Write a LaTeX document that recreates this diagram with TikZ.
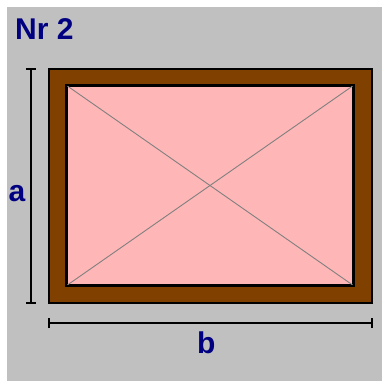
\documentclass[tikz,border=0pt]{standalone}
\usepackage{fontspec}
\setmainfont{Liberation Sans}
\definecolor{bggray}{RGB}{192,192,192}
\definecolor{frame}{RGB}{128,64,0}
\definecolor{pane}{RGB}{255,182,182}
\definecolor{diag}{RGB}{128,128,128}
\definecolor{labelblue}{RGB}{0,0,128}
\begin{document}
\begin{tikzpicture}[x=1pt,y=-1pt,
  dimline/.style={line width=1.6pt,black},
  lbl/.style={inner sep=0pt,anchor=base west,text=labelblue,font=\fontsize{30}{30}\selectfont\bfseries},
  box/.style={draw=black,line width=1.8pt}]
\useasboundingbox (0,0) rectangle (382,381);
\fill[white] (0,0) rectangle (382,381);
\fill[bggray] (7,7) rectangle (382,381);
% frame
\node[box,fill=frame,minimum width=323pt,minimum height=234pt,inner sep=0pt] (outer) at (210.5,186) {};
\node[box,fill=pane,minimum width=286pt,minimum height=199pt,inner sep=0pt] (inner) at (210,185.5) {};
\draw[diag,line width=0.9pt] (inner.north west) -- (inner.south east);
\draw[diag,line width=0.9pt] (inner.south west) -- (inner.north east);
\draw[box] (inner.north west) rectangle (inner.south east);
% dimension a
\coordinate (a1) at (31,69);
\coordinate (a2) at (31,303);
\draw[dimline] (a1) -- (a2);
\draw[dimline] ([xshift=-5pt]a1) -- ([xshift=5pt]a1);
\draw[dimline] ([xshift=-5pt]a2) -- ([xshift=5pt]a2);
% dimension b
\coordinate (b1) at (49,323);
\coordinate (b2) at (372,323);
\draw[dimline] (b1) -- (b2);
\draw[dimline] ([yshift=-5pt]b1) -- ([yshift=5pt]b1);
\draw[dimline] ([yshift=-5pt]b2) -- ([yshift=5pt]b2);
% labels
\node[lbl] (title) at (15,39.5) {Nr 2};
\node[lbl] (la) at (8.5,201.5) {a};
\node[lbl] (lb) at (197,353) {b};
\end{tikzpicture}
\end{document}
